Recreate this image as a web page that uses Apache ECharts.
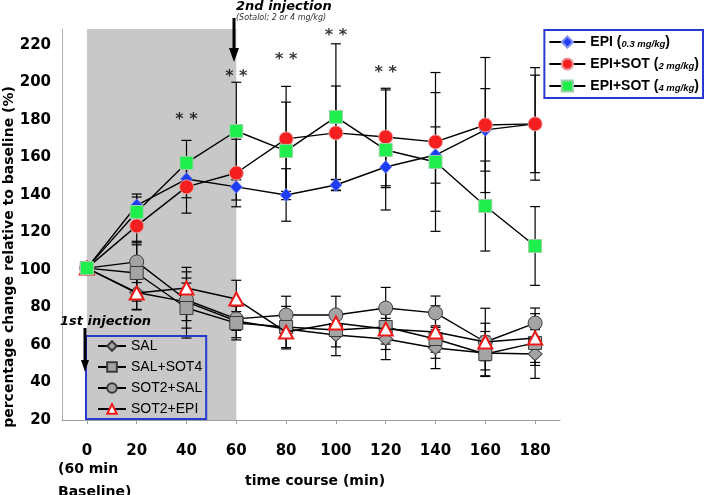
<!DOCTYPE html>
<html><head><meta charset="utf-8">
<script src="https://cdn.jsdelivr.net/npm/echarts@6/dist/echarts.min.js"></script>
<style>html,body{margin:0;padding:0;background:#fff}#c{width:708px;height:495px}</style>
</head><body><div id="c"></div>
<script>
// ---- data ----
const categories = ['0','20','40','60','80','100','120','140','160','180'];
const epi        = [101, 134.5, 148.5, 144.3, 140.0, 145.3, 154.9, 161.3, 174.7, 177.9];
const epiErr     = [0, 6, 10, 7, 14, 3, 11, 15, 22, 26];
const epiSot2    = [101, 123.5, 144.3, 151.7, 169.9, 173.1, 170.9, 168.3, 177.3, 177.9];
const epiSot2Err = [0, 9, 14, 18, 28, 25, 26, 37, 36, 30];
const epiSot4    = [101, 130.9, 157.1, 174.1, 163.5, 181.6, 164.0, 157.6, 134.1, 112.8];
const epiSot4Err = [0, 8, 12, 26, 26, 39, 32, 37, 24, 21];
const sal        = [101, 88.0, 83.0, 72.8, 68.5, 65.3, 63.2, 58.4, 55.7, 55.2];
const salErr     = [0, 9, 10, 5, 5, 11, 11, 11, 9, 13];
const salSot4    = [101, 98.4, 79.7, 71.7, 69.6, 68.0, 69.6, 63.2, 55.2, 61.1];
const salSot4Err = [0, 15, 16, 9, 11, 9, 12, 7, 12, 12];
const sot2Sal    = [101, 104.3, 84.0, 73.9, 76.0, 76.0, 79.7, 77.1, 61.6, 71.7];
const sot2SalErr = [0, 11, 15, 10, 10, 10, 11, 9, 10, 8];
const sot2Epi    = [101, 87.7, 90.4, 84.5, 66.9, 71.7, 68.5, 66.9, 61.6, 63.7];
const sot2EpiErr = [0, 9, 11, 10, 9, 6, 8, 14, 18, 13];
const starCats   = ['40','60','80','100','120'];
const starVals   = [180, 203, 212, 225, 205];
const shadeFrom  = '0', shadeTo = '60';

const names = {
  epi: 'EPI (0.3 mg/kg)', sot2: 'EPI+SOT (2 mg/kg)', sot4: 'EPI+SOT (4 mg/kg)',
  sal: 'SAL', salSot4: 'SAL+SOT4', sot2Sal: 'SOT2+SAL', sot2Epi: 'SOT2+EPI'
};

function errSeries(vals, errs, z) {
  return {
    type: 'custom', z: z, silent: true, animation: false,
    data: vals.map((v, i) => [i, v, errs[i]]),
    encode: { x: 0, y: 1 },
    renderItem: function (params, api) {
      const x = api.value(0), v = api.value(1), e = api.value(2);
      if (!e) return null;
      const hi = api.coord([x, v + e]), lo = api.coord([x, v - e]);
      const w = 5, st = { stroke: '#000', lineWidth: 1.2 };
      return { type: 'group', children: [
        { type: 'line', shape: { x1: hi[0], y1: hi[1], x2: lo[0], y2: lo[1] }, style: st },
        { type: 'line', shape: { x1: hi[0] - w, y1: hi[1], x2: hi[0] + w, y2: hi[1] }, style: st },
        { type: 'line', shape: { x1: lo[0] - w, y1: lo[1], x2: lo[0] + w, y2: lo[1] }, style: st }
      ]};
    }
  };
}
function lineSeries(name, data, symbol, size, itemStyle, z) {
  return { type: 'line', name: name, data: data, symbol: symbol, symbolSize: size,
    itemStyle: itemStyle, lineStyle: { color: '#000', width: 1.4 }, z: z,
    showAllSymbol: true, animation: false, emphasis: { disabled: true } };
}

const chart = echarts.init(document.getElementById('c'), null, { renderer: 'canvas' });
const grayStyle = { color: '#a4a4a4', borderColor: '#3a3a3a', borderWidth: 1 };
chart.setOption({
  backgroundColor: '#fff',
  animation: false,
  grid: { left: 62, right: 148, top: 29, bottom: 75 },
  xAxis: {
    type: 'category', data: categories, boundaryGap: true,
    axisLine: { lineStyle: { color: '#a0a0a0', width: 1 } },
    axisTick: { show: true, alignWithLabel: true, length: 4, lineStyle: { color: '#a0a0a0' } },
    axisLabel: { margin: 24, color: '#000', fontFamily: 'DejaVu Sans', fontWeight: 'bold', fontSize: 15 },
    splitLine: { show: false }
  },
  yAxis: {
    type: 'value', min: 20, max: 228.5, interval: 20,
    axisLine: { show: true, lineStyle: { color: '#b0b0b0', width: 1 } },
    axisTick: { show: false },
    axisLabel: { margin: 11, color: '#000', fontFamily: 'DejaVu Sans', fontWeight: 'bold', fontSize: 15, showMaxLabel: false },
    splitLine: { show: false }
  },
  legend: [
    {
      data: [names.epi, names.sot2, names.sot4],
      orient: 'vertical', right: 5, top: 30,
      borderColor: '#2639d0', borderWidth: 2, padding: [5, 4, 5, 4],
      itemGap: 8, itemWidth: 36, itemHeight: 14,
      formatter: function (n) { const p = n.split('('); return p[0] + '({i|' + p[1].replace(')', '') + '})'; },
      textStyle: { fontFamily: 'Liberation Sans', fontSize: 14, fontWeight: 'bold', color: '#000',
        rich: { i: { fontFamily: 'Liberation Sans', fontSize: 9.5, fontStyle: 'italic', fontWeight: 'bold', color: '#000', verticalAlign: 'bottom' } } }
    },
    {
      data: [names.sal, names.salSot4, names.sot2Sal, names.sot2Epi],
      orient: 'vertical', left: 86, top: 336,
      borderColor: '#2639d0', borderWidth: 2, padding: [3, 4, 3, 11],
      itemGap: 7, itemWidth: 28, itemHeight: 12,
      textStyle: { fontFamily: 'Liberation Sans', fontSize: 14, color: '#000' }
    }
  ],
  series: [
    { type: 'scatter', data: [], z: 0, silent: true,
      markArea: { silent: true, itemStyle: { color: '#c8c8c8' }, data: [[{ xAxis: shadeFrom }, { xAxis: shadeTo }]] } },
    errSeries(epi, epiErr, 2), errSeries(epiSot2, epiSot2Err, 2), errSeries(epiSot4, epiSot4Err, 2),
    errSeries(sal, salErr, 2), errSeries(salSot4, salSot4Err, 2), errSeries(sot2Sal, sot2SalErr, 2), errSeries(sot2Epi, sot2EpiErr, 2),
    lineSeries(names.sal, sal, 'diamond', [14, 13], grayStyle, 3),
    lineSeries(names.sot2Sal, sot2Sal, 'circle', 14, grayStyle, 4),
    lineSeries(names.salSot4, salSot4, 'rect', 13, grayStyle, 5),
    lineSeries(names.sot2Epi, sot2Epi, 'triangle', [14, 13], { color: '#fff', borderColor: '#f01818', borderWidth: 2 }, 6),
    lineSeries(names.epi, epi, 'diamond', [12, 13], { color: '#1f3cf5', borderColor: '#7f8ff0', borderWidth: 0.8 }, 7),
    lineSeries(names.sot2, epiSot2, 'circle', 14, { color: '#f51f1f', borderColor: '#e89a9a', borderWidth: 1 }, 8),
    lineSeries(names.sot4, epiSot4, 'rect', 13, { color: '#1fef4c', borderColor: '#9ad0a6', borderWidth: 1 }, 9),
    { type: 'scatter', z: 10, silent: true, symbolSize: 1, itemStyle: { color: 'rgba(0,0,0,0)' },
      data: starCats.map((c, i) => [c, starVals[i]]),
      label: { show: true, position: 'inside', formatter: '* *', color: '#000', fontFamily: 'DejaVu Sans', fontWeight: 'bold', fontSize: 16 } }
  ],
  graphic: [
    { type: 'text', x: 9, y: 257, rotation: Math.PI / 2, z: 100,
      style: { text: 'percentage change relative to baseline (%)', font: 'bold 14px "DejaVu Sans"', fill: '#000', textAlign: 'center', textVerticalAlign: 'middle' } },
    { type: 'text', x: 315, y: 481, z: 100,
      style: { text: 'time course (min)', font: 'bold 14px "DejaVu Sans"', fill: '#000', textAlign: 'center', textVerticalAlign: 'middle' } },
    { type: 'text', x: 58, y: 469, z: 100,
      style: { text: '(60 min', font: 'bold 14px "DejaVu Sans"', fill: '#000', textAlign: 'left', textVerticalAlign: 'middle' } },
    { type: 'text', x: 58, y: 492, z: 100,
      style: { text: 'Baseline)', font: 'bold 14px "DejaVu Sans"', fill: '#000', textAlign: 'left', textVerticalAlign: 'middle' } },
    { type: 'text', x: 236, y: 7, z: 100,
      style: { text: '2nd injection', font: 'italic bold 13px "DejaVu Sans"', fill: '#000', textAlign: 'left', textVerticalAlign: 'middle' } },
    { type: 'text', x: 236, y: 18, z: 100,
      style: { text: '(Sotalol; 2 or 4 mg/kg)', font: 'italic 8px "DejaVu Sans"', fill: '#333', textAlign: 'left', textVerticalAlign: 'middle' } },
    { type: 'text', x: 60, y: 322, z: 100,
      style: { text: '1st injection', font: 'italic bold 13px "DejaVu Sans"', fill: '#000', textAlign: 'left', textVerticalAlign: 'middle' } },
    { type: 'line', z: 100, shape: { x1: 234, y1: 18, x2: 234, y2: 50 }, style: { stroke: '#000', lineWidth: 3 } },
    { type: 'polygon', z: 100, shape: { points: [[229, 48], [239, 48], [234, 62]] }, style: { fill: '#000' } },
    { type: 'line', z: 100, shape: { x1: 85, y1: 328, x2: 85, y2: 362 }, style: { stroke: '#000', lineWidth: 3 } },
    { type: 'polygon', z: 100, shape: { points: [[81, 360], [89, 360], [85, 372]] }, style: { fill: '#000' } }
  ]
});
</script></body></html>
